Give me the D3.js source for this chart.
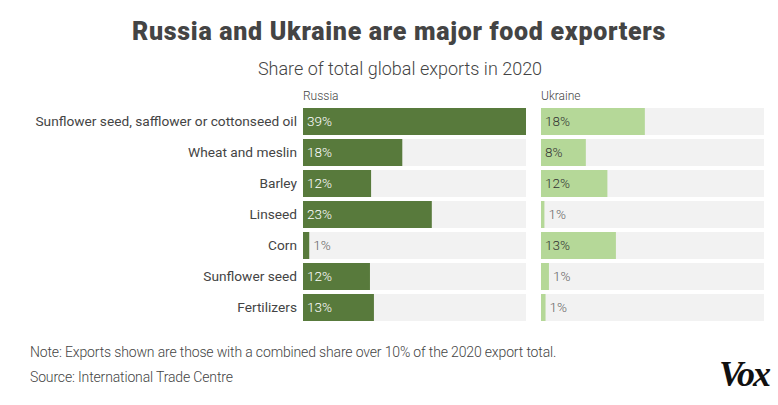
<!doctype html>
<html lang="en">
<head>
  <meta charset="utf-8">
  <title>Russia and Ukraine food exports</title>
  <script src="https://d3js.org/d3.v7.min.js"></script>
  <style>
    html, body { margin: 0; padding: 0; background: #fff; }
    svg { display: block; font-family: Roboto, "Open Sans", sans-serif; }
    .cat { font-size: 13.7px; fill: #444; }
    .val { font-size: 13.5px; }
  </style>
</head>
<body>
  <div id="chart"></div>
  <script>
    const categories = ["Sunflower seed, safflower or cottonseed oil", "Wheat and meslin", "Barley",
      "Linseed", "Corn", "Sunflower seed", "Fertilizers"];
    const russia = [39.3, 17.5, 12.0, 22.7, 1.1, 11.8, 12.5];
    const ukraine = [18.3, 7.9, 11.7, 0.6, 13.2, 1.4, 0.8];
    const panels = ["Russia", "Ukraine"];

    const width = 778, height = 405;
    const svg = d3.select('#chart').append('svg')
      .attr('width', width).attr('height', height);

    svg.append('text')
      .attr('x', 399).attr('y', 40)
      .attr('text-anchor', 'middle')
      .style('font-size', '25px').style('font-weight', 900)
      .style('fill', '#444').style('letter-spacing', '0.7px')
      .text('Russia and Ukraine are major food exporters');

    svg.append('text')
      .attr('x', 400).attr('y', 75)
      .attr('text-anchor', 'middle')
      .style('font-size', '18px').style('font-weight', 300)
      .style('fill', '#444')
      .text('Share of total global exports in 2020');

    const y = d3.scaleBand()
      .domain(categories)
      .range([108, 321])
      .paddingInner(0.129).paddingOuter(0);

    const xMax = d3.max(russia.concat(ukraine));
    const xR = d3.scaleLinear().domain([0, xMax]).range([303, 526]);
    const xU = d3.scaleLinear().domain([0, xMax]).range([541, 764]);

    svg.append('g').selectAll('text')
      .data(categories).join('text')
      .attr('class', 'cat')
      .attr('x', 297)
      .attr('y', d => y(d) + y.bandwidth() / 2)
      .attr('dy', '0.35em')
      .attr('text-anchor', 'end')
      .text(d => d);

    function panel(name, values, x, fill, inColor) {
      const g = svg.append('g');
      g.append('text')
        .attr('x', x(0)).attr('y', 100)
        .style('font-size', '12px').style('font-weight', 300)
        .style('fill', '#444')
        .text(name);

      g.selectAll('rect.bg')
        .data(categories).join('rect')
        .attr('class', 'bg')
        .attr('x', x(0)).attr('y', d => y(d))
        .attr('width', x.range()[1] - x(0))
        .attr('height', y.bandwidth())
        .attr('fill', '#f2f2f2');

      const rows = categories.map((c, i) => ({ cat: c, v: values[i] }));
      g.selectAll('rect.bar')
        .data(rows).join('rect')
        .attr('class', 'bar')
        .attr('x', x(0)).attr('y', d => y(d.cat))
        .attr('width', d => x(d.v) - x(0))
        .attr('height', y.bandwidth())
        .attr('fill', fill);

      g.selectAll('text.val')
        .data(rows).join('text')
        .attr('class', 'val')
        .attr('x', d => x(d.v) - x(0) > 30 ? x(0) + 4 : x(d.v) + 4)
        .attr('y', d => y(d.cat) + y.bandwidth() / 2)
        .attr('dy', '0.35em')
        .style('fill', d => x(d.v) - x(0) > 30 ? inColor : '#666')
        .style('font-weight', 300)
        .text(d => Math.round(d.v) + '%');
    }

    panel(panels[0], russia, xR, '#587a3c', '#fff');
    panel(panels[1], ukraine, xU, '#b5d898', '#333');

    svg.append('text')
      .attr('x', 30).attr('y', 357)
      .style('font-size', '14px').style('font-weight', 300)
      .style('fill', '#444').style('letter-spacing', '-0.15px')
      .text('Note: Exports shown are those with a combined share over 10% of the 2020 export total.');

    svg.append('text')
      .attr('x', 30).attr('y', 382)
      .style('font-size', '14px').style('font-weight', 300)
      .style('fill', '#444').style('letter-spacing', '-0.15px')
      .text('Source: International Trade Centre');

    svg.append('text')
      .attr('x', 769).attr('y', 386)
      .attr('text-anchor', 'end')
      .style('font-family', '"Liberation Serif", serif')
      .style('font-size', '36px').style('font-weight', 'bold')
      .style('font-style', 'italic').style('letter-spacing', '-2px')
      .style('fill', '#111')
      .text('Vox');
  </script>
</body>
</html>
